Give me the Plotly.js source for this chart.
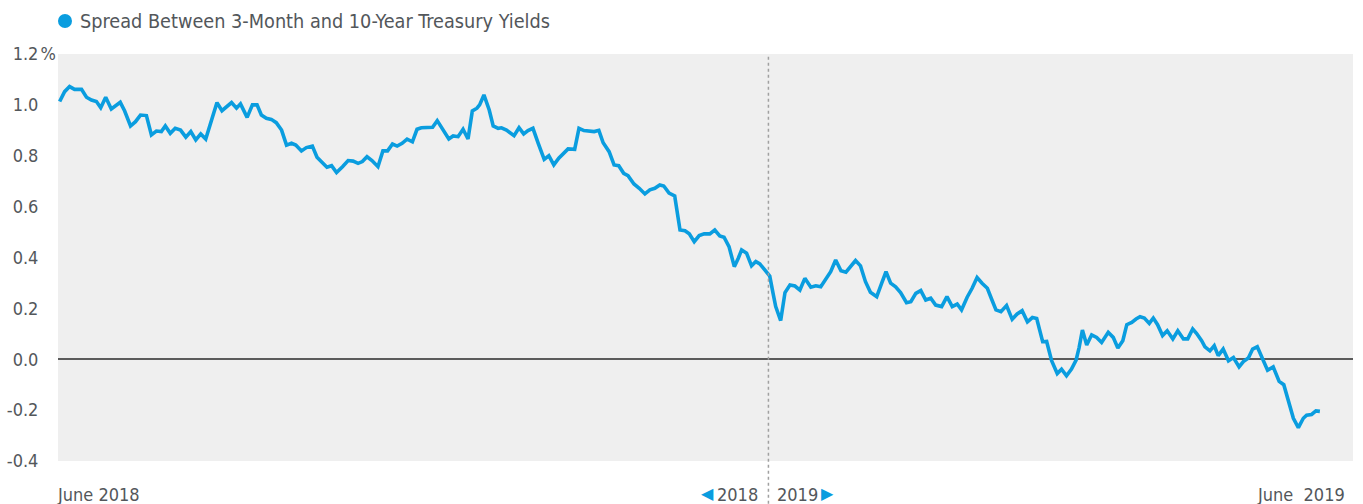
<!DOCTYPE html>
<html>
<head>
<meta charset="utf-8">
<script src="https://cdn.plot.ly/plotly-3.0.1.min.js"></script>
<style>html,body{margin:0;padding:0;background:#fff}#chart{width:1363px;height:504px}</style>
</head>
<body>
<div id="chart"></div>
<script>
// Days elapsed since 2018-06-01 for each observation
const days = [
0,1.5,3.0,4.5,6.6,8.1,9.6,11.1,12.4,13.9,15.6,17.1,18.3,19.6,21.4,22.9,24.4,26.2,27.7,29.2,
30.7,31.9,33.4,34.9,36.5,38.1,39.6,41.1,42.6,44.1,45.3,47.5,49.0,50.3,51.9,53.4,54.6,56.6,58.2,59.6,
60.9,62.4,63.9,65.4,67.0,68.5,70.0,71.3,73.0,74.5,76.3,77.7,79.2,80.7,82.1,83.6,85.4,87.1,88.6,90.1,
91.4,92.8,94.3,96.1,97.6,99.0,100.5,101.9,103.4,104.9,106.5,107.9,109.2,110.8,112.6,114.0,115.8,117.5,118.8,120.3,
121.8,123.3,124.6,126.0,126.8,128.1,129.7,130.9,132.4,133.4,134.9,135.9,137.2,138.7,140.1,141.4,142.9,144.5,146.3,147.7,
149.2,150.7,152.0,153.5,155.5,156.8,158.3,160.1,161.4,162.8,164.1,165.9,167.4,168.8,170.3,171.6,173.4,175.0,176.7,178.2,
179.7,181.2,182.4,184.0,185.7,187.3,188.8,190.1,191.6,193.1,194.6,196.3,197.8,199.3,200.6,202.1,203.7,204.9,205.9,207.4,
208.9,210.2,211.4,212.9,214.4,215.4,216.2,217.7,219.0,220.5,222.0,223.5,225.0,226.8,228.3,229.8,231.3,232.8,234.3,235.9,
237.4,238.9,240.3,241.8,243.3,244.8,246.7,248.2,249.5,250.9,252.4,253.9,255.7,257.0,258.5,260.0,261.5,263.0,264.5,266.3,
267.9,269.5,271.0,272.3,274.0,275.5,277.0,278.5,280.1,281.4,282.7,284.2,285.9,287.6,289.1,290.6,292.2,293.7,295.0,296.8,
298.0,299.5,301.2,302.5,304.0,305.5,306.9,307.8,308.8,310.1,311.6,313.1,314.6,316.6,318.1,319.5,321.0,322.2,323.7,325.0,
326.2,327.5,329.0,330.2,331.5,333.0,334.4,336.1,337.6,339.3,340.6,342.1,343.3,344.8,345.8,347.3,348.6,349.8,351.3,352.9,
354.4,356.1,357.4,358.9,360.2,361.6,362.9,364.7,366.4,368.2,369.6,370.9,372.5,374.0,375.5,376.5,378.0,379.3,380.5
];
// Spread between 3-month and 10-year Treasury yields (%)
const spread = [
1.013,1.052,1.072,1.061,1.061,1.030,1.019,1.013,0.989,1.030,0.984,1.000,1.010,0.977,0.917,0.934,0.960,0.958,0.882,0.897,
0.895,0.917,0.888,0.908,0.901,0.873,0.895,0.862,0.886,0.866,0.914,1.009,0.977,0.993,1.009,0.987,1.004,0.951,1.000,1.000,
0.960,0.947,0.943,0.930,0.901,0.842,0.849,0.842,0.819,0.832,0.838,0.794,0.774,0.755,0.761,0.734,0.757,0.781,0.779,0.770,
0.777,0.796,0.781,0.757,0.819,0.819,0.846,0.838,0.849,0.865,0.855,0.904,0.910,0.910,0.912,0.938,0.904,0.866,0.878,0.875,
0.904,0.866,0.976,0.987,1.000,1.039,0.980,0.917,0.908,0.910,0.901,0.892,0.879,0.910,0.886,0.899,0.908,0.849,0.786,0.800,
0.764,0.790,0.806,0.827,0.825,0.908,0.899,0.897,0.895,0.900,0.851,0.816,0.764,0.761,0.731,0.722,0.689,0.672,0.650,0.666,
0.672,0.685,0.681,0.653,0.642,0.508,0.505,0.493,0.462,0.486,0.493,0.493,0.508,0.485,0.480,0.443,0.364,0.397,0.430,0.417,
0.367,0.384,0.375,0.351,0.327,0.259,0.207,0.152,0.262,0.292,0.288,0.272,0.318,0.283,0.289,0.285,0.312,0.344,0.390,0.348,
0.342,0.364,0.388,0.367,0.305,0.263,0.246,0.299,0.344,0.299,0.285,0.262,0.222,0.226,0.259,0.270,0.233,0.240,0.213,0.207,
0.246,0.207,0.217,0.194,0.244,0.279,0.321,0.299,0.279,0.236,0.194,0.187,0.211,0.157,0.178,0.191,0.147,0.164,0.160,0.069,
0.070,-0.006,-0.056,-0.039,-0.065,-0.039,-0.003,0.046,0.115,0.056,0.096,0.086,0.066,0.106,0.086,0.044,0.073,0.136,0.145,0.158,
0.167,0.162,0.141,0.162,0.136,0.093,0.112,0.080,0.112,0.080,0.080,0.119,0.101,0.073,0.049,0.033,0.053,0.014,0.040,-0.006,
0.007,-0.030,-0.009,0.005,0.040,0.049,0.010,-0.043,-0.030,-0.087,-0.100,-0.163,-0.232,-0.269,-0.232,-0.220,-0.217,-0.203,-0.205
];
const startDate = '2018-06-01';
const yTickVals = [-0.4, -0.2, 0, 0.2, 0.4, 0.6, 0.8, 1.0, 1.2];
const yTickText = ['-0.4', '-0.2', '0.0', '0.2', '0.4', '0.6', '0.8', '1.0', '1.2'];
const seriesName = 'Spread Between 3-Month and 10-Year Treasury Yields';
const yearBoundary = '2019-01-01';
const xStartLabel = 'June 2018';
const xEndLabel = 'June\u00a0 2019';

const base = new Date(startDate + 'T00:00:00Z').getTime();
const dates = days.map(d => new Date(base + d * 86400000).toISOString().slice(0, 19).replace('T', ' '));

const BLUE = '#0a9ddf';
const TXT = '#53575b';
const FONT = '"Liberation Sans Narrow", "DejaVu Sans Condensed", Roboto, sans-serif';

const trace = {
  x: dates, y: spread, type: 'scatter', mode: 'lines',
  line: {color: BLUE, width: 3.6, shape: 'linear'},
  hoverinfo: 'x+y', showlegend: false
};

const layout = {
  width: 1363, height: 504,
  margin: {l: 58, r: 10, t: 54, b: 43},
  paper_bgcolor: '#ffffff', plot_bgcolor: '#efefef',
  font: {family: FONT, color: TXT, size: 18},
  showlegend: false,
  xaxis: {
    type: 'date', range: ['2018-05-31 12:00', '2019-06-26 12:00'],
    showgrid: false, zeroline: false, showticklabels: false, ticks: '', showline: false, fixedrange: true
  },
  yaxis: {
    range: [-0.4, 1.2], tickvals: yTickVals, ticktext: yTickText,
    showgrid: false, zeroline: true, zerolinecolor: '#5b5b5b', zerolinewidth: 2,
    ticks: 'outside', ticklen: 15, tickcolor: 'rgba(0,0,0,0)', showline: false,
    tickfont: {family: FONT, size: 18, color: TXT}, fixedrange: true
  },
  shapes: [
    {type: 'line', xref: 'x', yref: 'paper', x0: yearBoundary, x1: yearBoundary, y0: -0.12, y1: 1,
     line: {color: '#a0a0a0', width: 1.5, dash: 'dot'}, layer: 'above'},
    {type: 'circle', xref: 'paper', yref: 'paper', xsizemode: 'pixel', ysizemode: 'pixel',
     xanchor: 0.0054, yanchor: 1.081, x0: -7, x1: 7, y0: -7, y1: 7,
     fillcolor: BLUE, line: {width: 0}}
  ],
  annotations: [
    {xref: 'paper', yref: 'paper', x: 0.0155, y: 1.081, xanchor: 'left', yanchor: 'middle',
     text: seriesName, showarrow: false, font: {family: FONT, size: 19.7, color: TXT}},
    {xref: 'paper', yref: 'paper', x: 0, y: -0.083, xanchor: 'left', yanchor: 'middle', xshift: -3,
     text: xStartLabel, showarrow: false, font: {family: FONT, size: 18, color: TXT}},
    {xref: 'paper', yref: 'paper', x: 0.9954, y: -0.083, xanchor: 'right', yanchor: 'middle',
     text: xEndLabel, showarrow: false, font: {family: FONT, size: 18, color: TXT}},
    {xref: 'x', yref: 'paper', x: yearBoundary, y: -0.083, xanchor: 'right', yanchor: 'middle', xshift: -8,
     text: '2018', showarrow: false, font: {family: FONT, size: 18, color: TXT}},
    {xref: 'x', yref: 'paper', x: yearBoundary, y: -0.083, xanchor: 'left', yanchor: 'middle', xshift: 7,
     text: '2019', showarrow: false, font: {family: FONT, size: 18, color: TXT}},
    {xref: 'x', yref: 'paper', x: yearBoundary, y: -0.08, xanchor: 'right', yanchor: 'middle', xshift: -52,
     text: '\u25C0', showarrow: false, font: {family: 'DejaVu Sans', size: 16, color: BLUE}},
    {xref: 'x', yref: 'paper', x: yearBoundary, y: -0.08, xanchor: 'left', yanchor: 'middle', xshift: 51,
     text: '\u25B6', showarrow: false, font: {family: 'DejaVu Sans', size: 16, color: BLUE}}
  ]
};

Plotly.newPlot('chart', [trace], layout, {staticPlot: true, displayModeBar: false}).then(() => {
  // percent sign after the top tick label
  const lbl = Array.from(document.querySelectorAll('.ytick text')).find(t => t.textContent === '1.2');
  if (lbl) {
    const bb = lbl.getBBox();
    const svgNS = 'http://www.w3.org/2000/svg';
    const pct = document.createElementNS(svgNS, 'text');
    pct.textContent = '%';
    pct.setAttribute('x', bb.x + bb.width + 2);
    pct.setAttribute('y', lbl.getAttribute('y'));
    pct.setAttribute('style', lbl.getAttribute('style'));
    pct.setAttribute('text-anchor', 'start');
    if (lbl.getAttribute('transform')) pct.setAttribute('transform', lbl.getAttribute('transform'));
    lbl.parentNode.appendChild(pct);
  }
});
</script>
</body>
</html>
